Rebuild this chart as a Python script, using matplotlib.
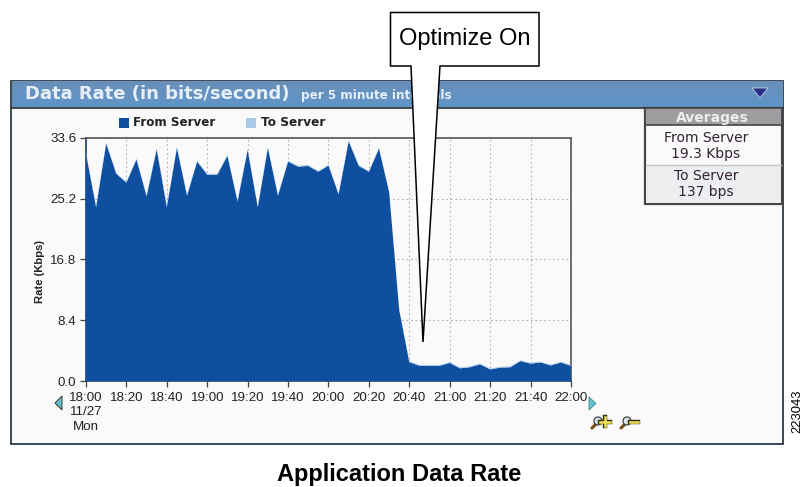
import numpy as np
import matplotlib
matplotlib.use("Agg")
import matplotlib.pyplot as plt
from matplotlib.patches import Rectangle, Polygon, Circle

# minutes after 18:00, 5 minute samples
minutes = list(range(0, 245, 5))
from_server = [31.4, 24.0, 32.8, 28.6, 27.4, 30.6, 25.5, 32.0, 24.0, 32.2,
               25.6, 30.3, 28.5, 28.5, 31.1, 24.8, 31.9, 24.0, 32.2, 25.6,
               30.3, 29.6, 29.7, 28.9, 29.75, 25.8, 33.1, 29.7, 28.9, 32.1,
               26.1, 9.8, 2.6, 2.1, 2.1, 2.1, 2.5, 1.75, 1.9, 2.3,
               1.6, 1.85, 1.9, 2.75, 2.4, 2.55, 2.15, 2.55, 2.1]
to_server = [0.15, 0.15, 0.14, 0.14, 0.13, 0.14, 0.14, 0.15, 0.15, 0.14,
             0.14, 0.14, 0.13, 0.13, 0.14, 0.14, 0.15, 0.15, 0.14, 0.14,
             0.13, 0.13, 0.13, 0.13, 0.13, 0.14, 0.15, 0.14, 0.13, 0.14,
             0.14, 0.14, 0.13, 0.13, 0.13, 0.13, 0.13, 0.13, 0.13, 0.13,
             0.13, 0.13, 0.13, 0.13, 0.13, 0.13, 0.13, 0.13, 0.13]
tick_minutes = [0, 20, 40, 60, 80, 100, 120, 140, 160, 180, 200, 220, 240]
tick_labels = ["18:00\n11/27\nMon", "18:20", "18:40", "19:00", "19:20", "19:40", "20:00",
               "20:20", "20:40", "21:00", "21:20", "21:40", "22:00"]
y_ticks = [0.0, 8.4, 16.8, 25.2, 33.6]

W, H = 804, 487
SANS = "Liberation Sans"
WIDE = "DejaVu Sans"
DARK_BLUE = "#0f4f9f"
LIGHT_BLUE = "#a9cbe9"

fig = plt.figure(figsize=(W / 100, H / 100), dpi=100, facecolor="white")

# background layer in pixel coordinates
bg = fig.add_axes([0, 0, 1, 1], zorder=0)
bg.set_xlim(0, W)
bg.set_ylim(H, 0)
bg.axis("off")

bg.add_patch(Rectangle((11.5, 80.5), 772, 363, fc="#fafafa", ec="#2f3a45", lw=1.3))
bar = np.linspace(0, 1, 30).reshape(-1, 1)
header_cmap = matplotlib.colors.LinearSegmentedColormap.from_list("hdr", ["#6a8fb8", "#5f95c9"])
bg.imshow(bar, extent=(12, 783, 107, 81), cmap=header_cmap, aspect="auto", zorder=1)
bg.set_xlim(0, W)
bg.set_ylim(H, 0)
bg.plot([12, 783], [107.5, 107.5], color="#22282e", lw=1.2, zorder=2)
bg.text(25, 94, "Data Rate (in bits/second)", family=WIDE, weight="bold", fontsize=13,
        color="#e6eff8", va="center", zorder=3)
bg.text(301, 96, "per 5 minute intervals", family=WIDE, weight="bold", fontsize=8.65,
        color="#e6eff8", va="center", zorder=3)
bg.add_patch(Polygon([(752, 88), (768, 88), (760, 98)], fc="#2b2f86", ec="#c8d4e4", lw=0.6, zorder=3))

# legend
bg.add_patch(Rectangle((119, 118), 10, 10, fc=DARK_BLUE, ec="none"))
bg.text(133, 123, "From Server", family=WIDE, weight="bold", fontsize=8.6, color="#222222", va="center")
bg.add_patch(Rectangle((246, 118), 10, 10, fc=LIGHT_BLUE, ec="none"))
bg.text(261, 123, "To Server", family=WIDE, weight="bold", fontsize=8.7, color="#222222", va="center")

# averages box
bg.add_patch(Rectangle((645, 108), 137, 96, fc="#fafafa", ec="#444444", lw=1.6))
bg.add_patch(Rectangle((645, 108), 137, 17, fc="#a09da0", ec="#444444", lw=1.2, zorder=2))
bg.add_patch(Rectangle((646.5, 165), 134, 38, fc="#eceef0", ec="none", zorder=2))
bg.plot([646, 781], [164.5, 164.5], color="#c4c6c8", lw=1, zorder=3)
bg.text(712, 118, "Averages", family=WIDE, weight="bold", fontsize=10, color="#eeeeee",
        ha="center", va="center", zorder=3)
bg.text(706, 138, "From Server", family=WIDE, fontsize=10, color="#332233", ha="center", va="center", zorder=3)
bg.text(706, 154, "19.3 Kbps", family=WIDE, fontsize=10, color="#332233", ha="center", va="center", zorder=3)
bg.text(706, 176, "To Server", family=WIDE, fontsize=10, color="#332233", ha="center", va="center", zorder=3)
bg.text(706, 192, "137 bps", family=WIDE, fontsize=10, color="#332233", ha="center", va="center", zorder=3)

# scroll arrows
bg.add_patch(Polygon([(62, 396), (62, 410), (55, 403)], fc="#63c2c9", ec="#333333", lw=0.7, zorder=3))
bg.add_patch(Polygon([(589, 397), (589, 410), (596, 403.5)], fc="#63c2c9", ec="#4a8a90", lw=0.6, zorder=3))

# zoom icons
for cx in (598, 627):
    bg.plot([cx - 6, cx - 1], [428, 423], color="#7a4a14", lw=2.2, solid_capstyle="round", zorder=3)
    bg.add_patch(Circle((cx, 421), 4, fc="#dfe8ee", ec="#333333", lw=0.8, zorder=4))
bg.plot([600, 610], [421.5, 421.5], color="#333300", lw=3.2, zorder=5)
bg.plot([600, 610], [421.5, 421.5], color="#f2e15a", lw=1.8, zorder=6)
bg.plot([605, 605], [417, 426], color="#333300", lw=3.2, zorder=5)
bg.plot([605, 605], [417, 426], color="#f2e15a", lw=1.8, zorder=6)
bg.plot([630, 638], [421.5, 421.5], color="#333300", lw=3.2, zorder=5)
bg.plot([630, 638], [421.5, 421.5], color="#f2e15a", lw=1.8, zorder=6)

bg.text(399, 475, "Application Data Rate", family=SANS, weight="bold", fontsize=17,
        color="black", ha="center", va="center")
bg.text(797, 411, "223043", family=SANS, fontsize=9.4, color="black", rotation=90,
        ha="center", va="center")

# the chart itself
left, right, top, bottom = 86, 571, 137.7, 381
ax = fig.add_axes([left / W, 1 - bottom / H, (right - left) / W, (bottom - top) / H], zorder=1)
ax.set_facecolor("#fafafa")
ax.stackplot(minutes, from_server, to_server, colors=[DARK_BLUE, LIGHT_BLUE], lw=0, zorder=3)
ax.set_xlim(0, 240)
ax.set_ylim(0, 33.6)
ax.set_xticks(tick_minutes)
ax.set_xticklabels(tick_labels, family=SANS, fontsize=9.6, color="#222222", linespacing=1.25)
ax.set_yticks(y_ticks)
ax.set_yticklabels(["%.1f" % v for v in y_ticks], family=SANS, fontsize=9.6, color="#222222")
ax.tick_params(length=4, width=0.9, color="#444444", pad=3)
ax.tick_params(axis="x", pad=4)
ax.grid(True, color="#b0b0b0", ls=(0, (1.5, 2.5)), lw=0.8, zorder=1)
ax.set_axisbelow(True)
for side in ax.spines:
    ax.spines[side].set_color("#555555")
    ax.spines[side].set_linewidth(1.2)
ax.spines["bottom"].set_color("#1b3f70")
ax.spines["left"].set_color("#1b3f70")
ax.set_ylabel("Rate (Kbps)", family=SANS, weight="bold", fontsize=8.1, color="#222222")
ax.yaxis.set_label_coords(-0.085, 0.452)

# callout on top of everything
top_ax = fig.add_axes([0, 0, 1, 1], zorder=2)
top_ax.set_xlim(0, W)
top_ax.set_ylim(H, 0)
top_ax.axis("off")
top_ax.patch.set_alpha(0)
top_ax.add_patch(Polygon([(390.5, 12.5), (539, 12.5), (539, 66), (440, 66), (423, 342), (411, 66), (390.5, 66)],
                         closed=True, fc="white", ec="black", lw=1.1, joinstyle="miter"))
top_ax.text(465, 39, "Optimize On", family=SANS, fontsize=17, color="black", ha="center", va="center")

fig.savefig("out.png", dpi=100)
